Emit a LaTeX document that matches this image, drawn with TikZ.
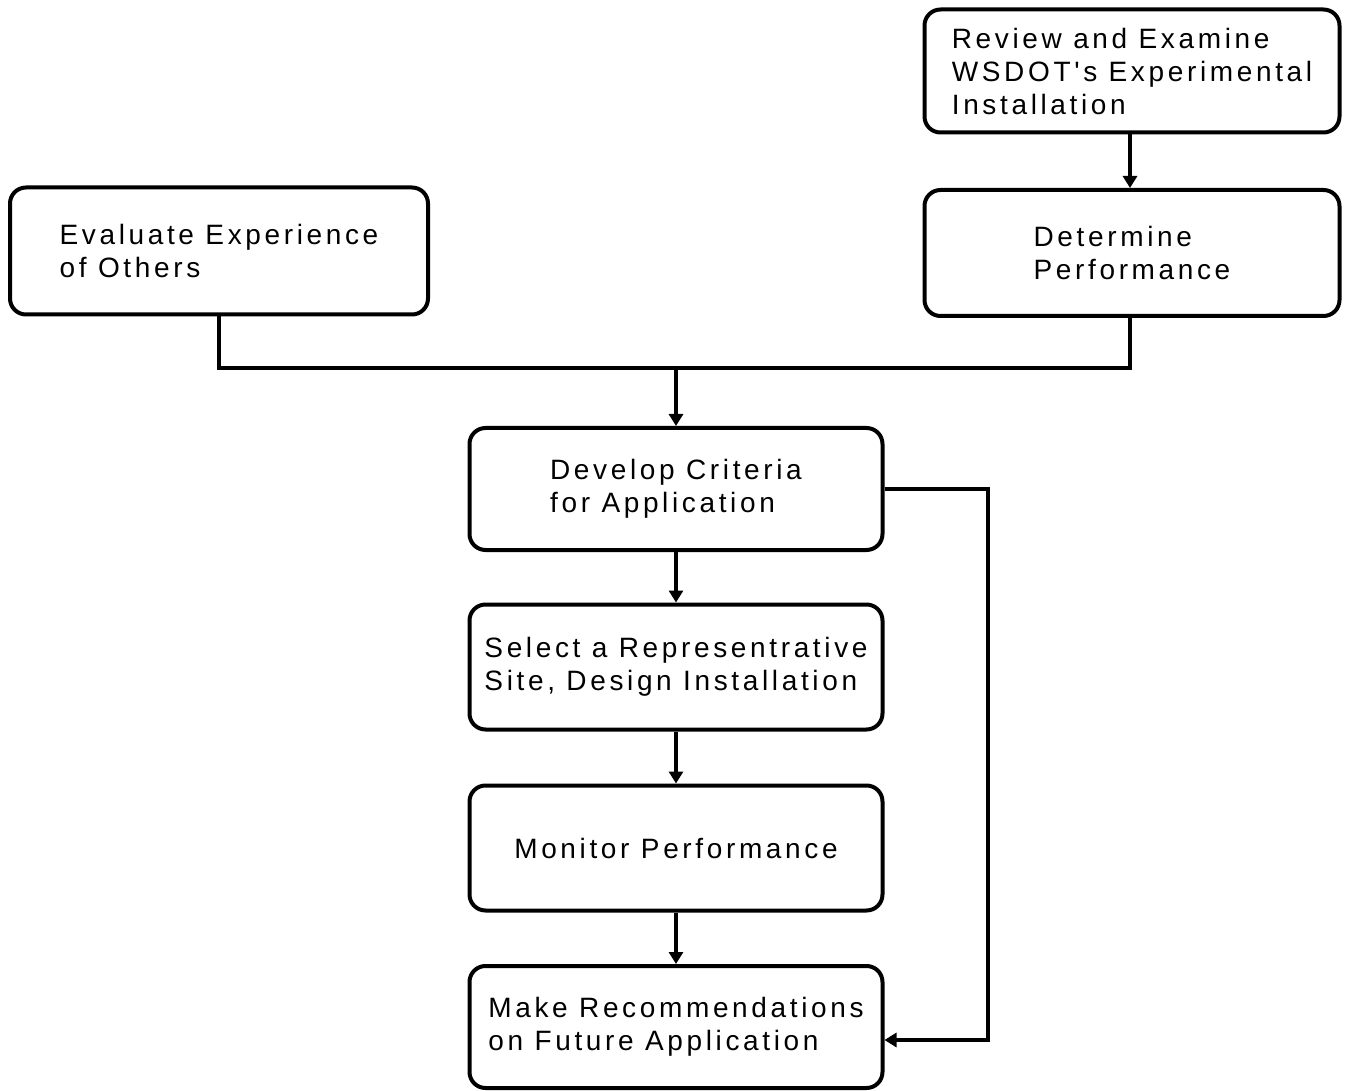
\documentclass[tikz,border=0pt]{standalone}
\usepackage{fontspec}
\setmainfont{Liberation Sans}[LetterSpace=13,Ligatures=TeXOff]
\usetikzlibrary{arrows.meta}
\begin{document}
\begin{tikzpicture}[x=0.5pt,y=-0.5pt,
  box/.style={draw, line width=2pt, rounded corners=8pt, align=left,
    font=\fontsize{14}{16.5}\selectfont, inner sep=0pt},
  link/.style={line width=1.8pt},
  arr/.style={link, -{Triangle[width=7pt,length=6pt]}}]
  \useasboundingbox (0,0) rectangle (1345,1091);

  \node[box, minimum width=207.5pt, minimum height=61.5pt] (review) at (1132,71)
    {Review and Examine\\WSDOT's Experimental\\Installation};
  \node[box, minimum width=207.5pt, minimum height=63pt] (perf) at (1132,253)
    {Determine\\Performance};
  \node[box, minimum width=209pt, minimum height=63.5pt] (eval) at (219,251)
    {Evaluate Experience\\of Others};
  \node[box, minimum width=206.5pt, minimum height=61pt] (crit) at (676,489)
    {Develop Criteria\\for Application};
  \node[box, minimum width=206.5pt, minimum height=62.5pt] (site) at (676,667)
    {Select a Representrative\\Site, Design Installation};
  \node[box, minimum width=206.5pt, minimum height=62.5pt] (mon) at (676,848)
    {Monitor Performance};
  \node[box, minimum width=206.5pt, minimum height=61pt] (rec) at (676,1027)
    {Make Recommendations\\on Future Application};

  \coordinate (join) at (676,368);
  \coordinate (side) at (988,489);

  \draw[arr] (review.south -| 1130,0) -- (perf.north -| 1130,0);
  \draw[link] (eval.south) |- (join) -| (perf.south -| 1130,0);
  \draw[arr] (join) -- (crit.north);
  \draw[arr] (crit) -- (site);
  \draw[arr] (site) -- (mon);
  \draw[arr] (mon) -- (rec);
  \draw[arr] (crit.east) -- (side) |- ([yshift=-6.5pt]rec.east);
\end{tikzpicture}
\end{document}
